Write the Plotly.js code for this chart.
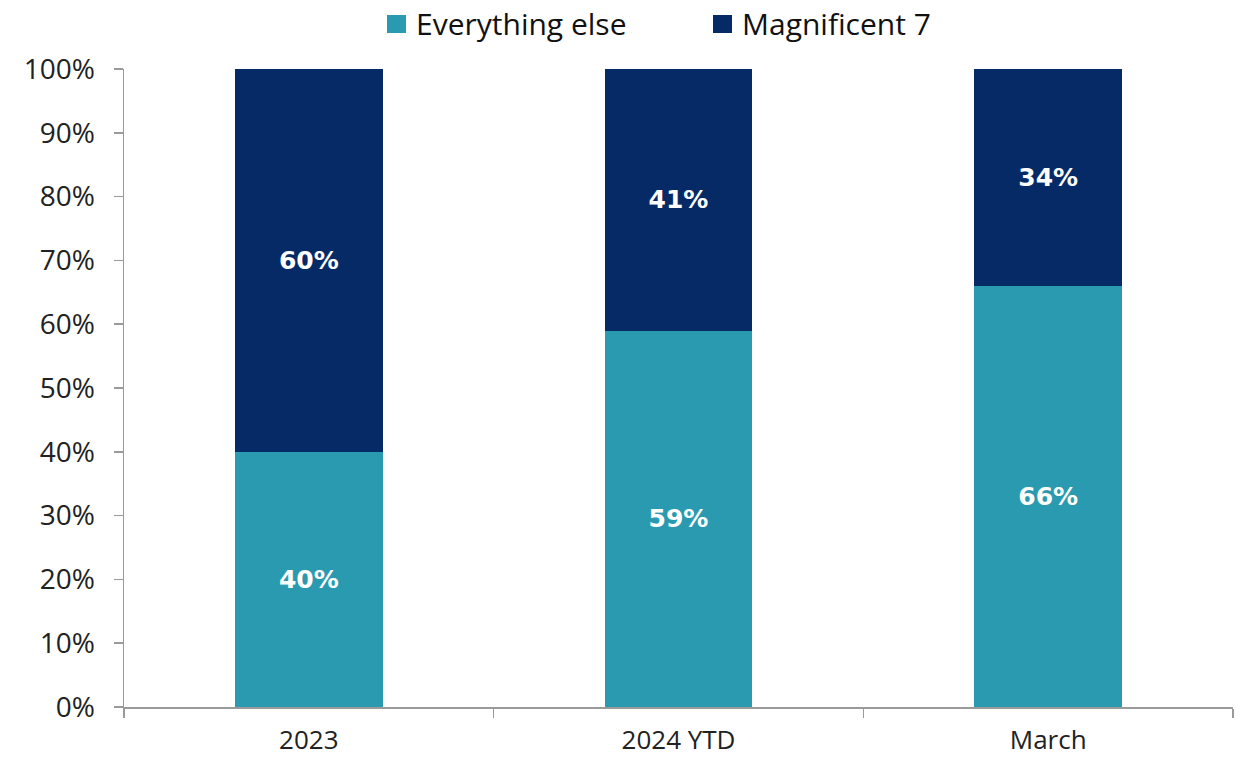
<!DOCTYPE html>
<html>
<head>
<meta charset="utf-8">
<script src="https://cdn.plot.ly/plotly-3.0.1.min.js"></script>
<style>html,body{margin:0;padding:0;background:#fff;}#chart{width:1243px;height:761px;}</style>
</head>
<body>
<div id="chart"></div>
<script>
const categories = ["2023", "2024 YTD", "March"];
const everythingElse = [40, 59, 66];
const magnificent7 = [60, 41, 34];
const seriesNames = ["Everything else", "Magnificent 7"];
const seriesColors = ["#2A9AB0", "#062A66"];
const yTickVals = [0,10,20,30,40,50,60,70,80,90,100];
const yTickText = ["0%","10%","20%","30%","40%","50%","60%","70%","80%","90%","100%"];

const FONT = "Open Sans, Noto Sans, sans-serif";
const LABEL_FONT = "DejaVu Sans, Open Sans, sans-serif";
const seriesValues = [everythingElse, magnificent7];
const traces = seriesValues.map((vals, i) => ({
  type: "bar", name: seriesNames[i], x: categories, y: vals,
  marker: {color: seriesColors[i], line: {width: 0}},
  text: vals.map(v => v + "%"),
  textposition: "inside", insidetextanchor: "middle", textangle: 0,
  textfont: {color: "#ffffff", size: 25, family: LABEL_FONT, weight: 700},
  hoverinfo: "skip", showlegend: false
}));

// custom legend (larger swatches, like the reference)
const L = 124, R = 1233, T = 69, B = 707;
const px = p => (p - L) / (R - L);
const py = p => (B - p) / (B - T);
const legendItems = [
  {sx0: 387, sx1: 406, tx: 414},
  {sx0: 713, sx1: 732, tx: 740}
];
const shapes = legendItems.map((it, i) => ({
  type: "rect", xref: "paper", yref: "paper",
  x0: px(it.sx0), x1: px(it.sx1), y0: py(33), y1: py(15),
  fillcolor: seriesColors[i], line: {width: 0}
}));
const annotations = legendItems.map((it, i) => ({
  xref: "paper", yref: "paper", x: px(it.tx), y: py(24),
  xanchor: "left", yanchor: "middle", showarrow: false,
  text: seriesNames[i], font: {size: 30, color: "#111111", family: FONT}
}));

const layout = {
  width: 1243, height: 761,
  barmode: "stack", bargap: 0.6,
  margin: {l: L, r: 1243 - R, t: T, b: 761 - B, autoexpand: false},
  paper_bgcolor: "#ffffff", plot_bgcolor: "#ffffff",
  font: {family: FONT, color: "#222222"},
  showlegend: false,
  shapes: shapes, annotations: annotations,
  xaxis: {
    type: "category", tickson: "boundaries", ticks: "outside", ticklen: 9,
    tickcolor: "#9a9a9a", tickwidth: 1.5, showline: true, linecolor: "#9a9a9a", linewidth: 1.5,
    showgrid: false, zeroline: false, ticklabelstandoff: 9,
    tickfont: {size: 26, color: "#222222", family: FONT}
  },
  yaxis: {
    range: [0, 100], tickvals: yTickVals, ticktext: yTickText,
    ticks: "outside", ticklen: 9, tickcolor: "#9a9a9a", tickwidth: 1.5,
    showline: true, linecolor: "#9a9a9a", linewidth: 1.5,
    showgrid: false, zeroline: false, ticklabelstandoff: 13,
    tickfont: {size: 28, color: "#222222", family: FONT}
  }
};

Plotly.newPlot("chart", traces, layout, {displayModeBar: false, staticPlot: true});
</script>
</body>
</html>
